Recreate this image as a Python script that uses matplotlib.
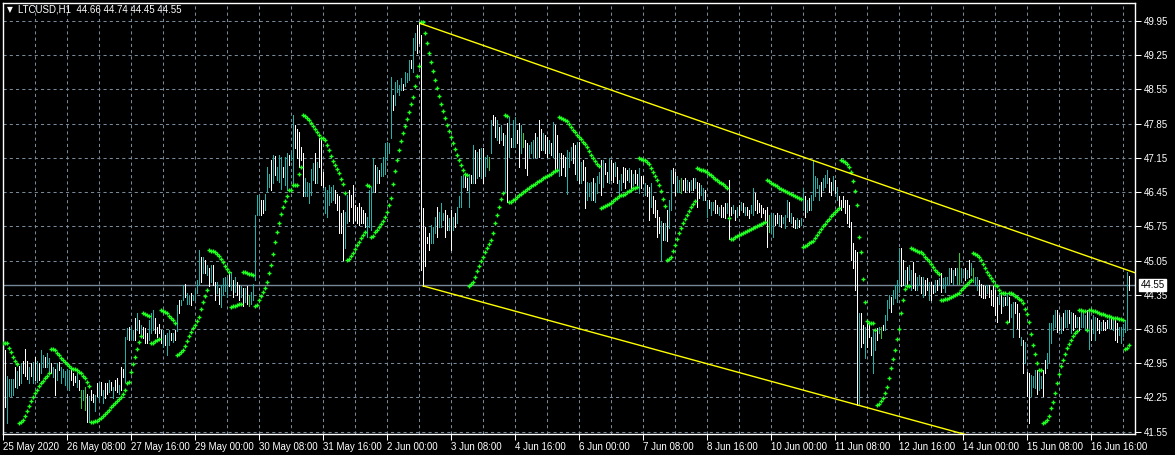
import numpy as np
import matplotlib.pyplot as plt

symbol = "LTCUSD,H1"
last_ohlc = [44.66, 44.74, 44.45, 44.55]

# hourly bars from 25 May 2020 00:00, 16 bars per row
highs = [
    43.36, 43.22, 42.68, 42.62, 42.62, 42.62, 42.88, 42.80, 42.90, 42.95, 43.00, 43.25, 43.00, 42.88, 42.95, 42.98,
    43.08, 43.00, 42.95, 43.22, 43.12, 43.08, 43.15, 43.05, 42.95, 42.88, 42.84, 42.95, 42.98, 42.88, 42.84, 42.80,
    42.84, 42.81, 42.84, 42.75, 42.68, 42.74, 42.61, 42.40, 42.40, 42.47, 42.33, 42.27, 42.40, 42.33, 42.30, 42.54,
    42.54, 42.57, 42.40, 42.54, 42.54, 42.61, 42.57, 42.47, 42.61, 42.64, 42.50, 42.88, 42.84, 43.49, 43.66, 43.70,
    43.70, 43.63, 43.87, 43.97, 43.83, 43.73, 43.70, 43.66, 43.56, 43.83, 43.97, 44.04, 43.87, 43.70, 43.76, 43.63,
    43.63, 43.53, 43.56, 43.63, 43.56, 43.56, 43.63, 44.14, 44.24, 44.24, 44.55, 44.58, 44.38, 44.35, 44.38, 44.35,
    44.45, 44.65, 45.27, 45.13, 45.13, 45.06, 44.96, 44.89, 44.96, 44.96, 44.62, 44.62, 44.48, 44.55, 44.69, 44.72,
    44.69, 44.79, 44.82, 44.65, 44.72, 44.62, 44.55, 44.52, 44.48, 44.48, 44.52, 44.35, 44.41, 44.58, 45.98, 46.39,
    46.39, 46.29, 46.29, 46.42, 46.97, 46.83, 47.11, 47.21, 47.18, 46.97, 47.21, 47.17, 46.97, 47.17, 47.24, 47.21,
    47.24, 48.03, 47.82, 47.75, 47.68, 47.38, 47.24, 46.73, 46.66, 46.63, 46.93, 47.04, 47.24, 47.07, 47.55, 47.51,
    46.87, 46.56, 46.49, 46.60, 46.56, 46.60, 46.49, 46.42, 46.36, 46.02, 46.08, 46.05, 46.39, 46.49, 46.39, 46.60,
    46.19, 46.15, 46.22, 46.15, 46.08, 46.02, 45.95, 46.49, 46.56, 47.14, 47.00, 46.97, 46.90, 47.04, 47.17, 47.45,
    47.48, 47.45, 48.81, 48.44, 48.71, 48.74, 48.64, 48.78, 48.67, 48.91, 48.88, 49.15, 49.15, 49.60, 49.70, 49.87,
    49.92, 49.66, 46.12, 45.74, 45.54, 45.61, 45.78, 45.74, 45.95, 46.15, 46.05, 46.22, 46.02, 46.08, 45.98, 45.91,
    46.08, 45.95, 46.02, 46.15, 46.36, 46.77, 46.80, 46.80, 46.73, 46.83, 46.80, 47.41, 47.31, 47.28, 47.34, 47.35,
    47.35, 47.17, 47.21, 47.17, 47.92, 48.03, 47.99, 47.92, 47.79, 47.82, 47.65, 47.62, 47.86, 47.99, 47.55, 47.92,
    47.99, 47.72, 47.86, 47.82, 47.65, 47.52, 47.45, 47.41, 47.48, 47.52, 47.65, 47.58, 47.92, 47.75, 47.65, 47.62,
    47.58, 47.52, 47.45, 47.89, 47.82, 47.62, 47.24, 47.24, 47.21, 47.17, 47.31, 47.28, 47.38, 47.45, 47.41, 47.48,
    47.48, 47.07, 47.11, 46.97, 46.66, 46.63, 46.66, 46.73, 46.63, 46.77, 46.87, 47.11, 47.11, 47.04, 46.87, 47.14,
    47.11, 47.04, 47.07, 46.97, 46.70, 46.83, 46.97, 46.94, 46.90, 46.94, 46.90, 46.83, 46.90, 46.83, 46.94, 46.77,
    46.77, 46.63, 46.59, 46.56, 46.63, 46.36, 46.29, 46.08, 45.95, 45.85, 45.81, 45.81, 46.08, 46.29, 46.90, 46.94,
    46.87, 46.77, 46.70, 46.73, 46.70, 46.73, 46.70, 46.66, 46.70, 46.73, 46.73, 46.66, 46.63, 46.59, 46.53, 46.49,
    46.29, 46.29, 46.25, 46.25, 46.29, 46.19, 46.15, 46.19, 46.15, 46.22, 46.22, 46.70, 46.15, 46.19, 46.08, 46.15,
    46.19, 46.25, 46.22, 46.15, 46.15, 46.08, 46.19, 46.53, 46.43, 46.29, 46.22, 46.19, 46.12, 46.08, 46.15, 45.98,
    46.02, 46.02, 45.98, 46.02, 45.98, 45.98, 45.95, 45.98, 46.29, 46.25, 46.02, 45.95, 45.88, 45.91, 45.88, 45.91,
    46.53, 46.36, 46.29, 46.32, 46.39, 47.11, 46.77, 46.73, 46.59, 46.66, 46.73, 46.80, 46.90, 46.73, 46.66, 46.77,
    46.70, 46.56, 46.36, 46.29, 46.36, 46.29, 46.29, 46.19, 45.84, 45.40, 45.27, 45.23, 43.97, 43.97, 43.73, 43.70,
    43.77, 43.77, 43.49, 43.63, 43.56, 43.66, 43.70, 43.70, 43.73, 43.94, 44.24, 44.35, 44.31, 44.45, 44.55, 44.65,
    45.30, 45.30, 45.06, 44.86, 44.92, 44.96, 44.86, 45.01, 44.79, 44.72, 44.75, 44.72, 44.72, 44.65, 44.69, 44.62,
    44.62, 44.55, 44.65, 44.65, 44.69, 44.79, 44.69, 44.72, 44.72, 44.89, 44.89, 44.86, 44.89, 44.89, 45.20, 44.89,
    44.86, 44.89, 44.86, 45.06, 45.00, 44.89, 44.72, 44.72, 44.65, 44.58, 44.55, 44.52, 44.55, 44.55, 44.45, 44.52,
    44.45, 44.31, 44.38, 44.38, 44.31, 44.31, 44.38, 44.31, 44.17, 44.21, 44.21, 44.17, 43.97, 43.49, 43.42, 43.39,
    42.78, 42.74, 42.71, 42.68, 42.81, 42.81, 42.74, 42.68, 42.81, 43.02, 43.15, 43.77, 43.77, 43.94, 44.04, 44.04,
    43.94, 43.90, 43.97, 44.04, 44.04, 44.04, 44.00, 43.97, 43.94, 43.90, 43.90, 44.00, 43.97, 43.94, 44.04, 44.00,
    43.83, 43.94, 43.90, 43.87, 43.83, 43.80, 43.83, 43.80, 43.83, 43.87, 43.87, 43.87, 43.83, 43.77, 43.70, 43.70,
    43.75, 43.83, 44.82, 44.74,
]
lows = [
    43.05, 42.05, 41.72, 42.27, 42.27, 42.30, 42.47, 42.45, 42.50, 42.54, 42.75, 42.68, 42.62, 42.54, 42.68, 42.54,
    42.61, 42.57, 42.60, 42.75, 42.88, 42.88, 42.88, 42.78, 42.74, 42.67, 42.30, 42.61, 42.81, 42.54, 42.67, 42.50,
    42.47, 42.40, 42.61, 42.50, 42.57, 42.47, 42.40, 42.03, 42.20, 42.00, 41.75, 41.75, 42.20, 42.16, 41.98, 42.27,
    42.20, 42.30, 42.13, 42.23, 42.33, 42.37, 42.40, 42.23, 42.40, 42.37, 42.33, 42.40, 42.67, 42.57, 43.45, 43.42,
    43.45, 43.42, 43.43, 43.63, 43.56, 43.53, 43.46, 43.36, 43.36, 43.42, 43.56, 43.63, 43.56, 43.49, 43.56, 43.36,
    43.29, 43.32, 43.12, 43.32, 43.42, 43.39, 43.42, 43.60, 43.97, 44.14, 44.24, 44.31, 44.17, 44.17, 44.14, 44.24,
    44.24, 44.38, 44.55, 44.62, 44.79, 44.79, 44.75, 44.52, 44.62, 44.55, 44.24, 44.38, 44.17, 44.10, 44.35, 44.42,
    44.31, 44.52, 44.45, 44.31, 44.41, 44.35, 44.24, 44.31, 44.11, 44.21, 44.17, 44.11, 44.17, 44.24, 44.65, 45.98,
    45.98, 45.98, 46.02, 46.08, 46.46, 46.56, 46.49, 46.63, 46.80, 46.70, 46.66, 46.52, 46.76, 46.59, 46.49, 47.00,
    47.10, 46.60, 47.35, 47.14, 46.97, 47.10, 46.36, 46.36, 46.36, 46.22, 46.39, 46.69, 46.63, 46.63, 46.97, 46.59,
    46.56, 46.02, 45.95, 46.19, 46.25, 46.29, 46.22, 46.08, 45.61, 45.61, 45.06, 45.30, 45.81, 45.85, 46.15, 45.81,
    45.88, 45.81, 45.78, 45.81, 45.81, 45.74, 45.54, 45.74, 45.68, 46.46, 46.46, 46.63, 46.63, 46.77, 46.77, 46.83,
    47.11, 47.24, 47.55, 48.13, 48.23, 48.50, 48.44, 48.54, 48.54, 48.61, 48.71, 48.74, 48.98, 48.91, 49.36, 49.29,
    49.49, 44.85, 44.52, 44.93, 45.40, 45.26, 45.40, 45.40, 45.61, 45.54, 45.74, 45.74, 45.88, 45.54, 45.68, 45.68,
    45.27, 45.68, 45.74, 45.81, 46.15, 46.15, 46.56, 46.56, 46.49, 46.15, 46.63, 46.63, 46.63, 46.73, 46.77, 46.73,
    46.63, 46.77, 46.97, 46.90, 47.24, 47.82, 47.58, 47.52, 47.45, 47.52, 47.41, 46.46, 46.25, 47.17, 47.38, 47.38,
    47.38, 47.45, 46.97, 47.24, 47.38, 46.94, 46.80, 47.17, 47.24, 47.14, 47.17, 47.17, 47.17, 47.31, 47.31, 47.24,
    47.17, 47.24, 47.21, 47.17, 46.90, 46.90, 46.77, 46.80, 46.97, 46.77, 46.42, 46.97, 47.11, 47.04, 46.83, 46.70,
    46.63, 46.63, 46.70, 46.12, 46.29, 46.36, 46.29, 46.29, 46.25, 46.43, 46.63, 46.39, 46.56, 46.83, 46.66, 46.63,
    46.70, 46.66, 46.77, 46.63, 46.39, 46.49, 46.66, 46.53, 46.70, 46.66, 46.53, 46.59, 46.63, 46.56, 46.43, 46.53,
    46.63, 46.39, 46.36, 45.88, 46.15, 46.02, 45.95, 45.54, 45.61, 45.06, 45.47, 45.47, 45.44, 45.71, 46.08, 46.63,
    46.39, 46.46, 46.46, 46.43, 46.49, 46.46, 46.49, 46.46, 46.49, 46.49, 46.53, 46.15, 46.32, 46.39, 46.29, 46.29,
    45.95, 46.12, 45.98, 46.08, 46.02, 46.02, 45.98, 45.95, 45.95, 45.91, 46.02, 45.50, 45.98, 46.02, 45.88, 45.95,
    45.98, 46.08, 46.05, 45.98, 45.98, 45.91, 46.02, 45.98, 46.08, 46.02, 46.05, 45.95, 46.02, 45.88, 45.33, 45.64,
    45.61, 45.54, 45.78, 45.81, 45.78, 45.74, 45.81, 45.71, 45.95, 45.85, 45.81, 45.74, 45.71, 45.71, 45.74, 45.78,
    46.08, 45.95, 46.05, 46.08, 46.08, 46.29, 46.36, 46.53, 46.29, 46.36, 46.49, 46.56, 46.63, 46.46, 46.39, 46.49,
    46.43, 46.29, 46.15, 46.08, 46.15, 46.02, 45.81, 45.74, 45.06, 44.90, 44.45, 42.10, 42.09, 43.29, 43.36, 43.05,
    43.29, 43.49, 43.12, 42.74, 43.22, 43.42, 43.56, 43.46, 43.63, 43.63, 43.83, 44.07, 44.00, 44.17, 44.28, 44.21,
    44.41, 44.52, 44.55, 44.52, 44.55, 44.65, 44.45, 44.48, 44.45, 44.45, 44.55, 44.38, 44.31, 44.35, 44.45, 44.24,
    44.24, 44.38, 44.41, 44.45, 44.55, 44.41, 44.48, 44.41, 44.55, 44.58, 44.62, 44.58, 44.75, 44.58, 44.58, 44.62,
    44.72, 44.65, 44.69, 44.72, 44.75, 44.62, 44.55, 44.45, 44.35, 44.31, 44.28, 44.28, 44.38, 44.31, 44.14, 44.11,
    43.94, 43.80, 44.17, 43.97, 44.11, 44.14, 44.14, 43.80, 43.90, 43.49, 43.97, 43.66, 43.49, 43.32, 42.74, 42.95,
    42.27, 41.72, 42.27, 42.47, 42.44, 42.33, 42.40, 42.44, 42.27, 42.74, 42.85, 42.98, 43.36, 43.63, 43.70, 43.59,
    43.63, 43.56, 43.63, 43.70, 43.70, 43.77, 43.56, 43.63, 43.70, 43.70, 43.63, 43.70, 43.70, 43.63, 43.63, 43.25,
    43.42, 43.56, 43.42, 43.63, 43.56, 43.63, 43.63, 43.63, 43.66, 43.66, 43.66, 43.63, 43.42, 43.39, 43.53, 43.36,
    43.50, 43.59, 43.63, 44.45,
]
# u = up bar, d = down bar, n = doji
bar_dir = ("uduu uudu dudd dudu duduuduudududuuu uudd dudn undu ddud udud dudu ddud duud "
           "uudu dudd duuu dddd uduu dudu duud uudu uuud udud uddu duuu udud uddu dudn uuuu "
           "uddu uudu duuu duud uudd dddu uuuu dudd duuu uudd dddu uddd dddd dduu uudu duuu "
           "uuud uuuu duuu duud dddd dduu uduu uddu dudu uuud dudu dudu duun uddu dudu dudu "
           "uddu nddu uudu ddud dudu ddud dduu uddu dudd uuud uuud uddu ddud uudd dudu ddud "
           "dudd uddd dudu duud duun ddud udud duud uduu ddud ddud dudu dudu dduu dddd dddn "
           "uudd uduu udud dudu udud uuuu uduu uddu dudd dddd dddd uddu dddu udun duuu duuu "
           "uddu duud duud uddu ddud uduu uudu dunu udud unuu dddd uddd ddud udud uudd dudu "
           "dduu uduu dduu uuud dudu udud dudu uudu duud dudd dudu dduu uuud").replace(" ", "")

time_labels = ["25 May 2020", "26 May 08:00", "27 May 16:00", "29 May 00:00", "30 May 08:00",
               "31 May 16:00", "2 Jun 00:00", "3 Jun 08:00", "4 Jun 16:00", "6 Jun 00:00",
               "7 Jun 08:00", "8 Jun 16:00", "10 Jun 00:00", "11 Jun 08:00", "12 Jun 16:00",
               "14 Jun 00:00", "15 Jun 08:00", "16 Jun 16:00"]
price_ticks = [49.95, 49.25, 48.55, 47.85, 47.15, 46.45, 45.75, 45.05, 44.35, 43.65, 42.95, 42.25, 41.55]

# trendlines (bar index, price)
upper_line = [(208.5, 49.90), (566, 44.80)]
lower_line = [(210, 44.53), (566, 40.54)]

highs = np.array(highs)
lows = np.array(lows)
n = len(highs)
x = np.arange(n)

# parabolic SAR (0.02, 0.2)
sar = np.zeros(n)
up = False
af = 0.02
ep = lows[0]
s = highs[0]
sar[0] = s
for i in range(1, n):
    s = s + af * (ep - s)
    if up:
        s = min(s, lows[i - 1], lows[max(i - 2, 0)])
        if lows[i] < s:
            up = False
            s = ep
            ep = lows[i]
            af = 0.02
        elif highs[i] > ep:
            ep = highs[i]
            af = min(af + 0.02, 0.2)
    else:
        s = max(s, highs[i - 1], highs[max(i - 2, 0)])
        if highs[i] > s:
            up = True
            s = ep
            ep = highs[i]
            af = 0.02
        elif lows[i] < ep:
            ep = lows[i]
            af = min(af + 0.02, 0.2)
    sar[i] = s

colors = {"u": "#20B2AA", "d": "#FFFFFF", "n": "#2ECC2E"}
bar_colors = [colors[c] for c in bar_dir]

grid_c = "#778899"
fig = plt.figure(figsize=(11.75, 4.55), dpi=100, facecolor="black")
ax = fig.add_axes([2.7 / 1175, 21 / 455, 1132.3 / 1175, 431.5 / 455], facecolor="black")
ax.set_xlim(-0.3, 566)
ax.set_ylim(41.502, 50.328)

for p in price_ticks:
    ax.axhline(p, color=grid_c, lw=0.75, ls=(0, (3, 3)), zorder=0)
for g in range(16, 566, 16):
    ax.axvline(g, color=grid_c, lw=0.75, ls=(0, (3, 3)), zorder=0)

ax.vlines(x, lows, highs, colors=bar_colors, lw=0.72, antialiased=False, zorder=2)
ax.plot(x, sar, ls="none", marker="+", ms=2.8, mew=1.0, color="#22FF22", zorder=3)

ax.plot([p[0] for p in upper_line], [p[1] for p in upper_line], color="#FFFF00", lw=1, zorder=4)
ax.plot([p[0] for p in lower_line], [p[1] for p in lower_line], color="#FFFF00", lw=1, zorder=4)
ax.axhline(last_ohlc[3], color=grid_c, lw=1, zorder=1)

for sp in ax.spines.values():
    sp.set_color("white")
    sp.set_linewidth(1)

font = ["Liberation Sans", "DejaVu Sans"]
ax.yaxis.tick_right()
ax.set_yticks(price_ticks)
ax.set_yticklabels([f"{p:.2f}" for p in price_ticks], color="white", fontsize=7, family=font)
ax.set_xticks(np.arange(len(time_labels)) * 32)
ax.set_xticklabels(time_labels, color="white", fontsize=7, family=font, ha="left")
ax.tick_params(axis="both", colors="white", length=4, width=0.75, pad=2)
ax.tick_params(axis="x", pad=1.5)

ax.annotate(f"{last_ohlc[3]:.2f}", xy=(1.0, last_ohlc[3]), xycoords=("axes fraction", "data"),
            xytext=(4, 0), textcoords="offset points", va="center", ha="left",
            fontsize=7, family=font, color="black",
            bbox=dict(boxstyle="square,pad=0.15", fc="white", ec="white"), zorder=10)

fig.text(7 / 1175, 1 - 10 / 455, "\u25bc", color="white", fontsize=5.5, family=["DejaVu Sans"], va="center")
fig.text(18 / 1175, 1 - 10 / 455,
         symbol + "  " + " ".join(f"{v:.2f}" for v in last_ohlc),
         color="white", fontsize=7, family=font, va="center")

fig.savefig("out.png", dpi=100, facecolor="black")
